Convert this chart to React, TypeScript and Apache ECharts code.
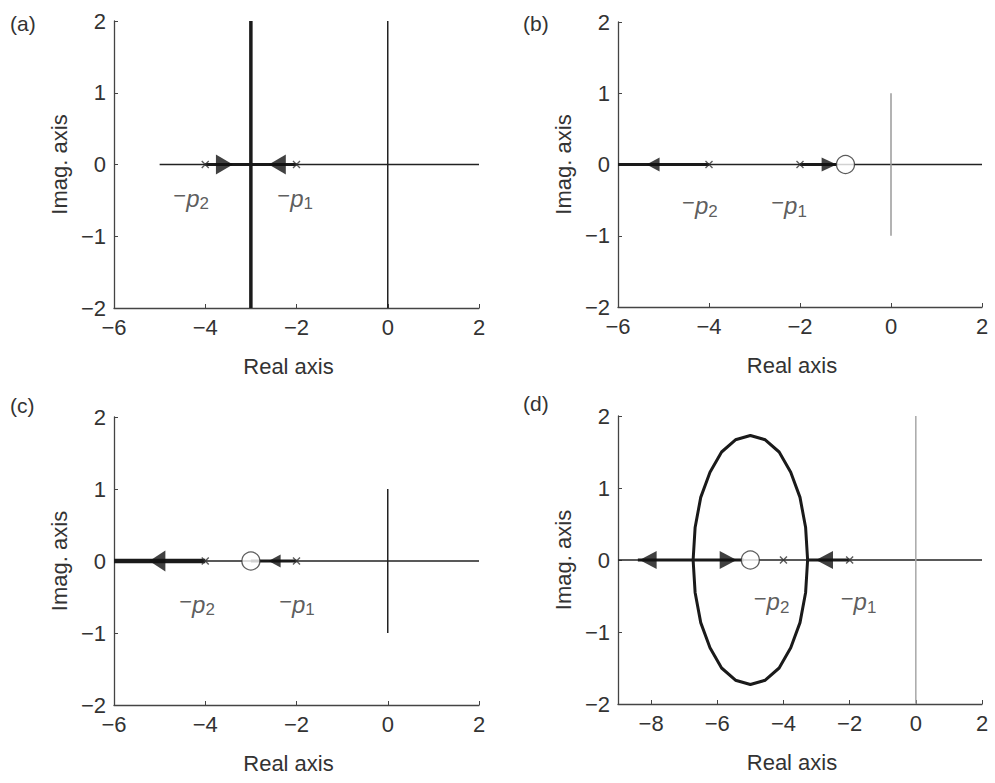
import React, { useEffect, useRef } from "react";
import * as echarts from "echarts";

// ---- data ----
const panelTags = ["(a)", "(b)", "(c)", "(d)"];
const xRanges = [[-6, 2], [-6, 2], [-6, 2], [-9, 2]];
const xTicksABC = [-6, -4, -2, 0, 2];
const xTicksD = [-8, -6, -4, -2, 0, 2];
const yRange = [-2, 2];

// real axis reference lines
const realLines = [
  [[-5, 0], [2, 0]],
  [[-6, 0], [2, 0]],
  [[-6, 0], [2, 0]],
  [[-9, 0], [2, 0]],
];
// imaginary axis reference lines
const imagLines = [
  [[0, -2], [0, 2]],
  [[0, -1], [0, 1]],
  [[0, -1], [0, 1]],
  [[0, -2], [0, 2]],
];
// root locus branches (thick)
const lociA = [
  [[-4, 0], [-2, 0]],
  [[-3, -2], [-3, 2]],
];
const lociB = [
  [[-6, 0], [-4, 0]],
  [[-2, 0], [-1.2, 0]],
];
const lociC = [
  [[-6, 0], [-4, 0]],
  [[-3, 0], [-2, 0]],
];
const circleD = [
  [-3.27, 0], [-3.33, 0.45], [-3.5, 0.87], [-3.78, 1.22], [-4.13, 1.5], [-4.55, 1.67],
  [-5.0, 1.73], [-5.45, 1.67], [-5.87, 1.5], [-6.22, 1.22], [-6.5, 0.87], [-6.67, 0.45],
  [-6.73, 0], [-6.67, -0.45], [-6.5, -0.87], [-6.22, -1.22], [-5.87, -1.5], [-5.45, -1.67],
  [-5.0, -1.73], [-4.55, -1.67], [-4.13, -1.5], [-3.78, -1.22], [-3.5, -0.87], [-3.33, -0.45],
  [-3.27, 0],
];
const lociD = [
  [[-8.4, 0], [-5.2, 0]],
  [[-3.27, 0], [-2, 0]],
  circleD,
];
const loci = [lociA, lociB, lociC, lociD];

// arrows: [x, y, direction]
const arrows = [
  [[-3.58, 0, "right"], [-2.42, 0, "left"]],
  [[-5.23, 0, "left"], [-1.36, 0, "right"]],
  [[-5.05, 0, "left"], [-2.48, 0, "left"]],
  [[-8.09, 0, "left"], [-5.67, 0, "right"], [-2.76, 0, "left"]],
];
// open-loop poles (x) and zeros (o)
const poles = [
  [[-4, 0], [-2, 0]],
  [[-4, 0], [-2, 0]],
  [[-4, 0], [-2, 0]],
  [[-4, 0], [-2, 0]],
];
const zeros = [[], [[-1, 0]], [[-3, 0]], [[-5, 0]]];
// pole labels: [x, y, subscript]
const poleLabels = [
  [[-4.31, -0.47, "2"], [-2.03, -0.47, "1"]],
  [[-4.2, -0.58, "2"], [-2.24, -0.58, "1"]],
  [[-4.18, -0.6, "2"], [-1.99, -0.6, "1"]],
  [[-4.36, -0.58, "2"], [-1.73, -0.58, "1"]],
];

// ---- styles ----
const FONT = "'Liberation Sans', Arial, Helvetica, sans-serif";
const grids = [
  { left: 114, top: 21, width: 365, height: 287 },
  { left: 618, top: 22, width: 364, height: 285 },
  { left: 114, top: 417, width: 365, height: 288 },
  { left: 618, top: 416, width: 364, height: 288 },
];
const tagPos = [[10, 13], [523, 13], [10, 395], [523, 393]];
const imagColors = ["#222", "#9a9a9a", "#222", "#a8a8a8"];
const lociWidths = [
  [3, 3.5],
  [3, 3],
  [4.5, 3],
  [3, 3, 3],
];
const arrowSizes = [
  [[20, 17], [20, 17]],
  [[14, 13], [14, 15]],
  [[21, 16], [13, 12]],
  [[18, 17], [18, 17], [18, 17]],
];
const axisColor = "#444";
const textColor = "#333";

const minusFmt = (v: number) => (v < 0 ? "\u2212" + Math.abs(v) : String(v));

function buildOption() {
  const xAxis: any[] = [];
  const yAxis: any[] = [];
  const series: any[] = [];
  for (let i = 0; i < 4; i++) {
    const xt = i === 3 ? xTicksD : xTicksABC;
    xAxis.push({
      gridIndex: i,
      type: "value",
      min: xRanges[i][0],
      max: xRanges[i][1],
      interval: 1,
      axisLine: { show: true, onZero: false, lineStyle: { color: axisColor, width: 1.3 } },
      axisTick: { show: true, inside: true, length: 4, customValues: xt, lineStyle: { color: axisColor } },
      axisLabel: { fontSize: 22, color: textColor, margin: 8, customValues: xt, formatter: minusFmt, fontFamily: FONT },
      splitLine: { show: false },
      name: "Real axis",
      nameLocation: "middle",
      nameGap: 47,
      nameTextStyle: { fontSize: 22, color: textColor, fontFamily: FONT, padding: [0, 16, 0, 0] },
    });
    yAxis.push({
      gridIndex: i,
      type: "value",
      min: yRange[0],
      max: yRange[1],
      interval: 1,
      axisLine: { show: true, onZero: false, lineStyle: { color: axisColor, width: 1.3 } },
      axisTick: { show: true, inside: true, length: 4, lineStyle: { color: axisColor } },
      axisLabel: { fontSize: 22, color: textColor, margin: 8, formatter: minusFmt, fontFamily: FONT },
      splitLine: { show: false },
      name: "Imag. axis",
      nameLocation: "middle",
      nameGap: 44,
      nameTextStyle: { fontSize: 22, color: textColor, fontFamily: FONT },
    });
    const common = { xAxisIndex: i, yAxisIndex: i, silent: true };
    series.push({
      ...common, type: "line", data: realLines[i], showSymbol: false, symbol: "none",
      lineStyle: { color: "#222", width: 1.3 }, z: 2,
    });
    series.push({
      ...common, type: "line", data: imagLines[i], showSymbol: false, symbol: "none",
      lineStyle: { color: imagColors[i], width: 1.5 }, z: 2,
    });
    loci[i].forEach((seg, k) => {
      series.push({
        ...common, type: "line", data: seg, showSymbol: false, symbol: "none",
        lineStyle: { color: "#1a1a1a", width: lociWidths[i][k] }, z: 3,
      });
    });
    series.push({
      ...common, type: "scatter", z: 5,
      data: arrows[i].map((a: any, k: number) => ({
        value: [a[0], a[1]],
        symbol: "triangle",
        symbolRotate: a[2] === "right" ? -90 : 90,
        symbolSize: arrowSizes[i][k],
      })),
      itemStyle: { color: "#111" },
    });
    series.push({
      ...common, type: "scatter", z: 6,
      data: poles[i],
      symbol: "path://M0,0L10,10M10,0L0,10",
      symbolSize: 7,
      itemStyle: { color: "rgba(0,0,0,0)", borderColor: "#333", borderWidth: 1.4 },
    });
    if (zeros[i].length) {
      series.push({
        ...common, type: "scatter", z: 6,
        data: zeros[i],
        symbol: "circle",
        symbolSize: 18,
        itemStyle: { color: "#fff", borderColor: "#333", borderWidth: 1.3 },
      });
    }
    series.push({
      ...common, type: "scatter", z: 7,
      data: poleLabels[i].map((l: any) => ({ value: [l[0], l[1]], sub: l[2] })),
      symbolSize: 1,
      itemStyle: { color: "rgba(0,0,0,0)" },
      label: {
        show: true,
        position: "inside",
        formatter: (p: any) => "{m|\u2212}{p|p}{s|" + p.data.sub + "}",
        rich: {
          m: { fontSize: 22, color: textColor, fontFamily: FONT, verticalAlign: "top", lineHeight: 20 },
          p: { fontSize: 24, color: textColor, fontFamily: FONT, fontStyle: "italic", lineHeight: 28 },
          s: { fontSize: 17, color: textColor, fontFamily: FONT, verticalAlign: "bottom", lineHeight: 16 },
        },
      },
    });
  }
  const graphic = panelTags.map((t, i) => ({
    type: "text",
    left: tagPos[i][0],
    top: tagPos[i][1],
    style: { text: t, fontSize: 21, fill: textColor, fontFamily: FONT },
  }));
  return { animation: false, textStyle: { fontFamily: FONT }, grid: grids, xAxis, yAxis, series, graphic };
}

export default function App() {
  const ref = useRef<HTMLDivElement>(null);
  useEffect(() => {
    if (!ref.current) return;
    const chart = echarts.init(ref.current, undefined, { renderer: "svg" });
    chart.setOption(buildOption() as any);
    return () => chart.dispose();
  }, []);
  return (
    <div
      ref={ref}
      style={{ position: "fixed", left: 0, top: 0, width: 995, height: 783, background: "#fff" }}
    />
  );
}
